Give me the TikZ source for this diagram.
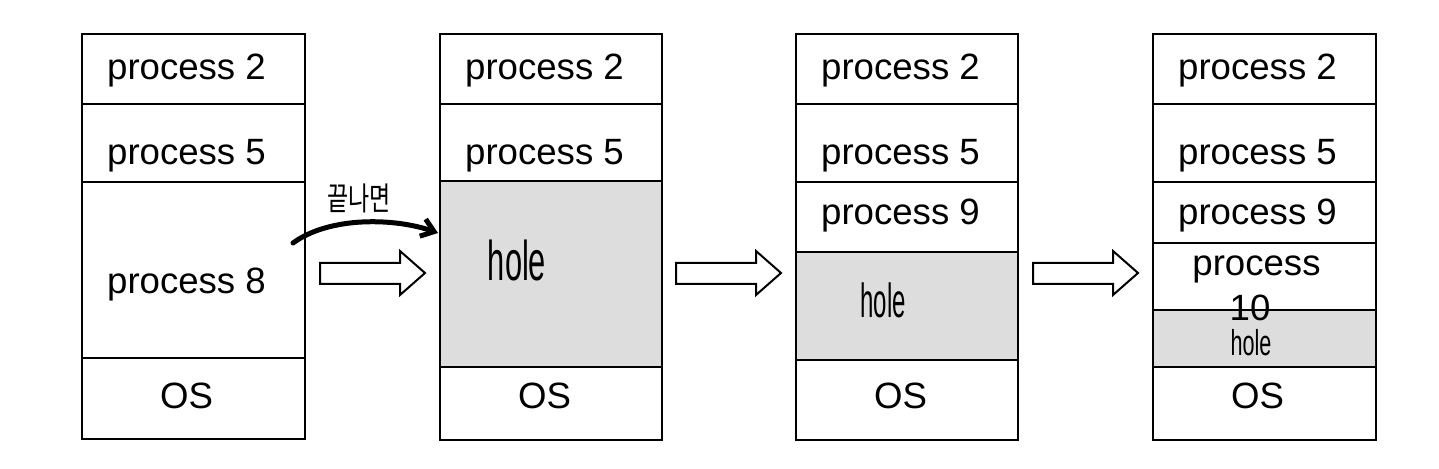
\documentclass[tikz,border=0pt]{standalone}
\usepackage{fontspec}
\setmainfont{Liberation Sans}
\newfontfamily\krfont{Noto Sans CJK KR}
\usetikzlibrary{positioning,calc,arrows.meta}
\definecolor{holegray}{HTML}{DDDDDD}

\begin{document}
\begin{tikzpicture}[x=0.5pt, y=-0.5pt, line width=1pt,
    txt/.style={font=\fontsize{18.3}{21}\selectfont, inner sep=0pt, anchor=base},
    cell/.style={draw=black},
    gap/.style={cell, fill=holegray},
    scrawl/.style={inner sep=0pt}]
\useasboundingbox (0,0) rectangle (1439,469);

% Memory 1
\draw[cell] (82,34) rectangle (305,104);
\draw[cell] (82,104) rectangle (305,182);
\draw[cell] (82,182) rectangle (305,358);
\draw[cell] (82,358) rectangle (305,439);
\node[txt] (ma2) at (186.5,80) {process 2};
\node[txt] (ma5) at (186.5,165) {process 5};
\node[txt] (ma8) at (186.5,294) {process 8};
\node[txt] (maos) at (186.5,409) {OS};

% Memory 2
\draw[cell] (440,34) rectangle (662,104);
\draw[cell] (440,104) rectangle (662,181);
\draw[gap] (440,181) rectangle (662,367);
\draw[cell] (440,367) rectangle (662,440);
\node[txt] (mb2) at (544.5,80) {process 2};
\node[txt] (mb5) at (544.5,165) {process 5};
\node[scrawl, font=\fontsize{28}{30}\selectfont, xscale=0.55] (mbhole) at (517,260) {hole};
\node[txt] (mbos) at (544.5,409) {OS};

% Memory 3
\draw[cell] (796,34) rectangle (1018,104);
\draw[cell] (796,104) rectangle (1018,182);
\draw[cell] (796,182) rectangle (1018,252);
\draw[gap] (796,252) rectangle (1018,360);
\draw[cell] (796,360) rectangle (1018,440);
\node[txt] (mc2) at (900.5,80) {process 2};
\node[txt] (mc5) at (900.5,165) {process 5};
\node[txt] (mc9) at (900.5,225) {process 9};
\node[scrawl, font=\fontsize{24}{26}\selectfont, xscale=0.5] (mchole) at (883,300) {hole};
\node[txt] (mcos) at (900.5,409) {OS};

% Memory 4
\draw[cell] (1153,34) rectangle (1376,104);
\draw[cell] (1153,104) rectangle (1376,182);
\draw[cell] (1153,182) rectangle (1376,243);
\draw[cell] (1153,243) rectangle (1376,310);
\draw[gap] (1153,310) rectangle (1376,367);
\draw[cell] (1153,367) rectangle (1376,440);
\node[txt] (md2) at (1257.5,80) {process 2};
\node[txt] (md5) at (1257.5,165) {process 5};
\node[txt] (md9) at (1257.5,225) {process 9};
\node[txt] (md10a) at (1256.5,276) {process};
\node[txt] (md10b) at (1250,321) {10};
\node[scrawl, font=\fontsize{18}{20}\selectfont, xscale=0.6] (mdhole) at (1251,343) {hole};
\node[txt] (mdos) at (1257.5,409) {OS};

% block arrows
\foreach \x in {320,676,1033}
  \draw (\x,263) -- (\x+80,263) -- (\x+80,251) -- (\x+105,273)
        -- (\x+80,295) -- (\x+80,284) -- (\x,284) -- cycle;

% hand-drawn arrow
\coordinate (fromp8) at (293,243);
\coordinate (tohole) at (438,233);
\draw[line width=2.5pt, line cap=round, -{Straight Barb[length=6pt, width=9pt]}]
  (fromp8) .. controls (330,216) and (395,218) .. (tohole);
\node[inner sep=0pt, font=\krfont\fontsize{11.5}{12}\selectfont, yscale=1.4] (done) at (359,198) {끝나면};
\end{tikzpicture}
\end{document}
